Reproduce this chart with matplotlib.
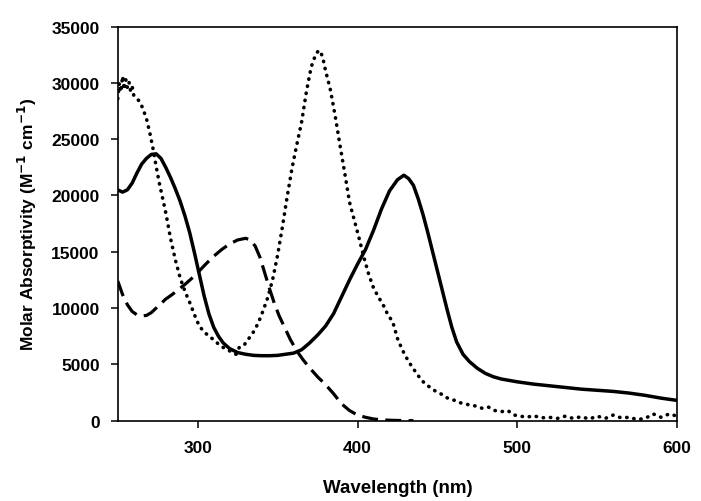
import matplotlib
matplotlib.use("Agg")
import matplotlib.pyplot as plt

plt.rcParams['font.family'] = ['Liberation Sans', 'DejaVu Sans']

# solid curve
solid_x = [250, 253, 256, 259, 262, 265, 268, 271, 274, 277, 280, 283, 286, 289, 292, 295, 298,
           301, 304, 307, 310, 313, 316, 320, 325, 330, 335, 340, 345, 350, 355, 360, 365, 370,
           375, 380, 385, 390, 395, 400, 405, 410, 415, 420, 425, 429, 432, 435, 438, 441, 444,
           447, 450, 453, 456, 459, 462, 466, 470, 475, 480, 485, 490, 500, 510, 520, 530, 540,
           550, 560, 570, 580, 590, 600]
solid_y = [20500, 20300, 20500, 21100, 22000, 22800, 23300, 23650, 23700, 23300, 22500, 21600,
           20600, 19500, 18200, 16700, 14900, 13000, 11100, 9500, 8300, 7500, 6900, 6400, 6050,
           5900, 5800, 5770, 5770, 5800, 5900, 6000, 6300, 6900, 7600, 8400, 9500, 11000, 12500,
           13900, 15200, 16900, 18800, 20400, 21400, 21800, 21500, 20900, 19700, 18300, 16700,
           15000, 13300, 11600, 9900, 8300, 7000, 5900, 5250, 4650, 4200, 3900, 3700, 3450, 3250,
           3100, 2950, 2800, 2700, 2600, 2450, 2250, 2000, 1800]

# dashed curve
dash_x = [250, 253, 256, 259, 262, 265, 268, 271, 274, 277, 280, 284, 288, 292, 296, 300, 305,
          310, 315, 320, 325, 330, 333, 336, 339, 342, 345, 348, 351, 354, 358, 362, 366, 370,
          375, 380, 385, 390, 395, 400, 405, 410, 415, 420, 425, 430, 435]
dash_y = [12400, 11200, 10300, 9700, 9400, 9300, 9350, 9600, 10000, 10400, 10800, 11200, 11650,
          12100, 12600, 13150, 13900, 14600, 15200, 15700, 16050, 16200, 16050, 15500, 14500,
          13100, 11700, 10400, 9300, 8400, 7200, 6200, 5400, 4700, 3900, 3200, 2400, 1500, 900,
          500, 300, 150, 80, 40, 20, 10, 0]

# dotted curve (noisy measurement)
dot_x = [250, 251, 252, 253, 254, 255, 256, 257, 258, 259, 260, 262, 264, 266, 268, 270, 272,
         274, 276, 278, 280, 283, 286, 289, 292, 295, 298, 301, 304, 307, 310, 313, 316, 319,
         322, 324, 326, 329, 332, 335, 338, 341, 344, 347, 350, 353, 356, 359, 362, 365, 368,
         371, 374, 376, 378, 380, 383, 386, 389, 392, 395, 398, 401, 404, 407, 410, 413, 416,
         419, 422, 425, 428, 431, 434, 437, 440, 443, 446, 449, 452, 455, 458, 461, 464, 467,
         470, 474, 478, 482, 486, 490, 494, 498, 502, 506, 510, 515, 520, 525, 530, 535, 540,
         545, 550, 555, 560, 565, 570, 575, 580, 585, 590, 595, 600]
dot_y = [28600, 30000, 29200, 30600, 29400, 30300, 29600, 30100, 29300, 29700, 28900, 28600,
         28300, 27600, 26800, 25600, 24200, 22600, 21100, 19800, 18500, 16200, 14300, 12700,
         11500, 10500, 9400, 8400, 7900, 7500, 7200, 6800, 6500, 6300, 6000, 5900, 6500, 6700,
         7300, 7900, 8700, 9800, 11000, 12600, 14700, 17200, 19900, 22400, 24500, 26500, 29200,
         31400, 32600, 32900, 32400, 31100, 29400, 27100, 24500, 22000, 19400, 17800, 16200,
         14500, 13000, 11800, 11000, 10300, 9400, 8800, 7300, 6300, 5500, 4800, 4200, 3600,
         3200, 2900, 2600, 2400, 2100, 1900, 1800, 1600, 1500, 1400, 1300, 1100, 1200, 900,
         800, 900, 500, 400, 300, 450, 250, 300, 200, 400, 200, 350, 150, 400, 200, 500, 250,
         300, 100, 200, 600, 300, 600, 400]

fig = plt.figure(figsize=(7.01, 5.02), dpi=100)
ax = fig.add_axes([0.168, 0.16, 0.798, 0.785])

ax.plot(solid_x, solid_y, color='black', lw=2.5, solid_capstyle='butt')
ax.plot(dash_x, dash_y, color='black', lw=2.3, linestyle=(0, (5, 2.3)), dash_capstyle='butt')
ax.plot(dot_x, dot_y, color='black', lw=2.6, linestyle=(0, (0.1, 1.9)), dash_capstyle='round')

ax.set_xlim(250, 600)
ax.set_ylim(0, 35000)
ax.set_xticks([300, 400, 500, 600])
ax.set_yticks(range(0, 35001, 5000))

for s in ax.spines.values():
    s.set_linewidth(1.2)
ax.tick_params(direction='out', length=5, width=1.1, top=False, right=False)
ax.tick_params(axis='x', pad=9)
ax.tick_params(axis='y', pad=8)
for lab in ax.get_xticklabels() + ax.get_yticklabels():
    lab.set_fontweight('bold')
    lab.set_fontsize(12.5)

ax.set_xlabel('Wavelength (nm)', fontsize=13.5, fontweight='bold', labelpad=17)
ax.set_ylabel('Molar Absorptivity (M$^{\\mathbf{-1}}$ cm$^{\\mathbf{-1}}$)', fontsize=12.5,
              fontweight='bold', labelpad=9)

fig.savefig('out.png', dpi=100)
